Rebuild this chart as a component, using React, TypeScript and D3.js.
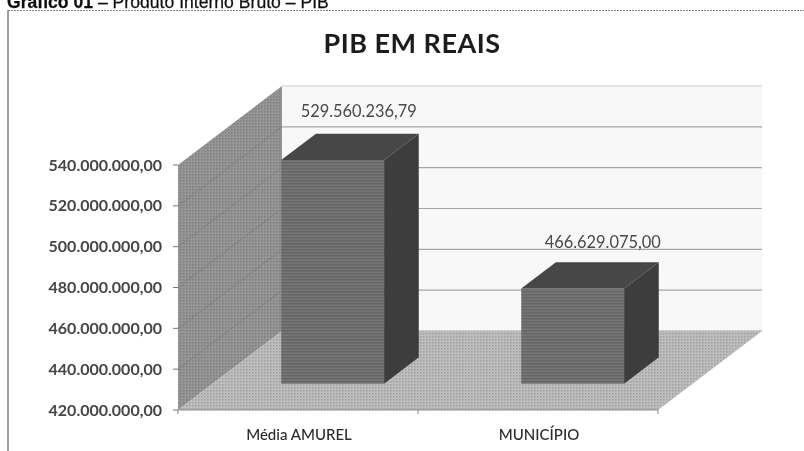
import React from "react";
import * as d3 from "d3";

const categories = ["Média AMUREL", "MUNICÍPIO"];
const values = [529560236.79, 466629075.0];
const valueLabels = ["529.560.236,79", "466.629.075,00"];
const ticks = [420e6, 440e6, 460e6, 480e6, 500e6, 520e6, 540e6];
const tickLabels = ["420.000.000,00", "440.000.000,00", "460.000.000,00", "480.000.000,00", "500.000.000,00", "520.000.000,00", "540.000.000,00"];

const W = 804, H = 451;
const y = d3.scaleLinear().domain([420e6, 540e6]).range([410, 165]);
const x = d3.scaleBand<string>().domain(categories).range([178, 658]).paddingInner(0.5714).paddingOuter(0.2857);
const DX = 104, DY = -79;
const sans = "Lato, Carlito, 'Open Sans', sans-serif";
const poly = (p: [number, number][]) => d3.line()(p) + "Z";

export default function App() {
  const [x0, x1] = x.range();
  const y0 = y(420e6), yT = y(540e6);
  return (
    <svg width={W} height={H} viewBox={`0 0 ${W} ${H}`} style={{ position: "fixed", left: 0, top: 0, background: "#fff" }}>
      <defs>
        <pattern id="ht-wall" width="3" height="3" patternUnits="userSpaceOnUse">
          <rect width="3" height="3" fill="#969696" />
          <rect width="1.5" height="1.5" fill="#7f7f7f" />
        </pattern>
        <pattern id="ht-floor" width="3" height="3" patternUnits="userSpaceOnUse">
          <rect width="3" height="3" fill="#bdbdbd" />
          <rect width="1.5" height="1.5" fill="#a0a0a0" />
        </pattern>
        <pattern id="ht-bar" width="3" height="3" patternUnits="userSpaceOnUse">
          <rect width="3" height="3" fill="#767676" />
          <rect width="3" height="1.5" fill="#666666" />
        </pattern>
        <filter id="soft"><feGaussianBlur stdDeviation="0.45" /></filter>
        <filter id="softer"><feGaussianBlur stdDeviation="0.6" /></filter>
      </defs>

      <text x={7} y={7.5} fontFamily="'Liberation Sans', Arial, sans-serif" fontSize={17.6} fill="#111" stroke="#111" strokeWidth={0.25} filter="url(#soft)">
        <tspan fontWeight="bold">Gráfico 01</tspan> – Produto Interno Bruto – PIB
      </text>
      <line x1={8} y1={10.5} x2={804} y2={10.5} stroke="#888" strokeDasharray="2 1" />
      <line x1={8} y1={10} x2={8} y2={451} stroke="#777" strokeWidth={1.4} />

      <text x={412} y={53} textAnchor="middle" fontFamily={sans} fontWeight="bold" fontSize={27} letterSpacing={0.5} fill="#1c1c1c" filter="url(#soft)">PIB EM REAIS</text>

      <g filter="url(#softer)">
        {/* back wall */}
        <rect x={x0 + DX} y={yT + DY} width={x1 - x0} height={y0 - yT} fill="#f8f8f8" />
        {ticks.map((t) => (
          <line key={t} x1={x0 + DX} x2={x1 + DX} y1={y(t) + DY} y2={y(t) + DY} stroke={t === 540e6 ? "#cccccc" : "#a6a6a6"} strokeWidth={1.2} />
        ))}
        {/* side wall */}
        <path d={poly([[x0, yT], [x0 + DX, yT + DY], [x0 + DX, y0 + DY], [x0, y0]])} fill="url(#ht-wall)" />
        {ticks.slice(1, -1).map((t) => (
          <line key={t} x1={x0} x2={x0 + DX} y1={y(t)} y2={y(t) + DY} stroke="#7c7c7c" strokeWidth={0.8} />
        ))}
        {/* floor */}
        <path d={poly([[x0, y0], [x1, y0], [x1 + DX, y0 + DY], [x0 + DX, y0 + DY]])} fill="url(#ht-floor)" />

        {/* axis */}
        <line x1={x0} x2={x1} y1={y0} y2={y0} stroke="#8a8a8a" />
        {[x0, x0 + (x1 - x0) / 2, x1].map((v) => (
          <line key={v} x1={v} x2={v} y1={y0} y2={y0 + 4} stroke="#8a8a8a" />
        ))}
        {ticks.map((t) => (
          <line key={t} x1={x0 - 5} x2={x0} y1={y(t)} y2={y(t)} stroke="#777" />
        ))}

        {/* bars */}
        {categories.map((c, i) => {
          const fx0 = x(c)! + DX / 3, bw = x.bandwidth();
          const fx1 = fx0 + bw;
          const ddx = DX / 3, ddy = DY / 3;
          const top = y(values[i]) + ddy, base = y0 + ddy;
          return (
            <g key={c}>
              <path d={poly([[fx0, top], [fx1, top], [fx1, base], [fx0, base]])} fill="url(#ht-bar)" />
              <path d={poly([[fx0, top], [fx1, top], [fx1 + ddx, top + ddy], [fx0 + ddx, top + ddy]])} fill="#474747" />
              <path d={poly([[fx1, top], [fx1 + ddx, top + ddy], [fx1 + ddx, base + ddy], [fx1, base]])} fill="#3c3c3c" />
            </g>
          );
        })}
      </g>

      {ticks.map((t, i) => (
        <text key={t} x={162} y={y(t) + 5.5} textAnchor="end" fontFamily={sans} fontWeight="bold" fontSize={16} fill="#444" filter="url(#soft)">
          {tickLabels[i]}
        </text>
      ))}
      {categories.map((c, i) => {
        const fx0 = x(c)! + DX / 3, bw = x.bandwidth();
        const ddy = DY / 3;
        const top = y(values[i]) + ddy;
        return (
          <g key={c}>
            <text x={fx0 + bw / 2 + (i === 0 ? 26 : 30)} y={top + ddy + (i === 0 ? -17 : -14)} textAnchor="middle" fontFamily={sans} fontSize={16.4} fill="#484848" filter="url(#soft)">
              {valueLabels[i]}
            </text>
            <text x={x(c)! + bw / 2 + 1} y={440} textAnchor="middle" fontFamily={sans} fontWeight="500" fontSize={15} fill="#2a2a2a" filter="url(#soft)">
              {c}
            </text>
          </g>
        );
      })}
    </svg>
  );
}
